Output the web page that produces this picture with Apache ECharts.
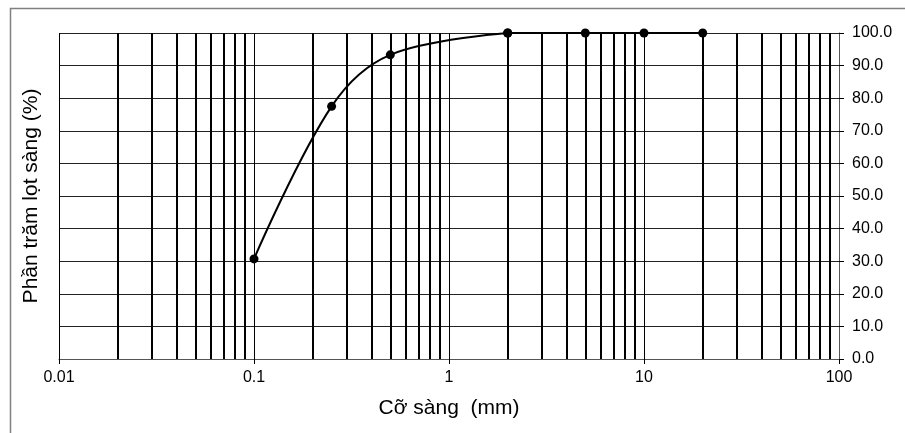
<!DOCTYPE html>
<html>
<head>
<meta charset="utf-8">
<script src="https://cdn.jsdelivr.net/npm/echarts@6/dist/echarts.min.js"></script>
<style>html,body{margin:0;padding:0;background:#fff;}#c{width:905px;height:433px;}</style>
</head>
<body>
<div id="c"></div>
<script>
// Data
var sieveSizes = [0.1, 0.25, 0.5, 2, 5, 10, 20];
var percentPassing = [30.7, 77.5, 93.3, 100, 100, 100, 100];
var minorGridValues = [0.02,0.03,0.04,0.05,0.06,0.07,0.08,0.09,
                       0.2,0.3,0.4,0.5,0.6,0.7,0.8,0.9,
                       2,3,4,5,6,7,8,9,
                       20,30,40,50,60,70,80,90];
var xTickLabels = ['0.01','0.1','1','10','100'];
var xTickValues = [0.01,0.1,1,10,100];
var xTitle = 'Cỡ sàng  (mm)';
var yTitle = 'Phần trăm lọt sàng (%)';

var font = 'Liberation Sans, Arial, sans-serif';
var pts = sieveSizes.map(function (s, i) { return [s, percentPassing[i]]; });
// first point reaching 100 splits curved part from flat part
var splitIdx = percentPassing.indexOf(100);

var chart = echarts.init(document.getElementById('c'), null, {renderer:'canvas'});
chart.setOption({
  animation: false,
  backgroundColor: '#fff',
  graphic: [{
    type: 'rect', z: 100, silent: true,
    shape: {x: 10.5, y: 8.5, width: 1000, height: 1000},
    style: {fill: 'none', stroke: '#808080', lineWidth: 1.5}
  }],
  grid: {left: 59, right: 66, top: 33, bottom: 74, containLabel: false},
  xAxis: {
    type: 'log', logBase: 10, min: 0.01, max: 100,
    name: xTitle, nameLocation: 'middle', nameGap: 39,
    nameTextStyle: {fontFamily: font, fontSize: 21, color: '#000'},
    axisLine: {show: true, onZero: false, lineStyle: {color: '#555', width: 1}},
    axisTick: {show: true, length: 5, lineStyle: {color: '#000', width: 1}},
    axisLabel: {
      margin: 11, fontFamily: font, fontSize: 16, color: '#000',
      formatter: function (v) {
        for (var i = 0; i < xTickValues.length; i++) {
          if (Math.abs(Math.log10(v) - Math.log10(xTickValues[i])) < 1e-6) return xTickLabels[i];
        }
        return '';
      }
    },
    splitLine: {show: true, lineStyle: {color: '#000', width: 1}}
  },
  yAxis: [{
    type: 'value', position: 'right', min: 0, max: 100, interval: 10,
    axisLine: {show: true, lineStyle: {color: '#555', width: 1}},
    axisTick: {show: true, length: 5, lineStyle: {color: '#000', width: 1}},
    axisLabel: {margin: 13, fontFamily: font, fontSize: 16, color: '#000',
      formatter: function (v) { return v.toFixed(1); }},
    splitLine: {show: true, lineStyle: {color: '#222', width: 1}}
  }, {
    type: 'value', position: 'left', min: 0, max: 100,
    name: yTitle, nameLocation: 'middle', nameGap: 17, nameRotate: 90,
    nameTextStyle: {fontFamily: font, fontSize: 21, color: '#000'},
    axisLine: {show: false}, axisTick: {show: false}, axisLabel: {show: false},
    splitLine: {show: false}
  }],
  series: [{
    type: 'line',
    data: pts.slice(0, splitIdx + 1),
    smooth: 0.35,
    symbol: 'circle', symbolSize: 9,
    itemStyle: {color: '#000'},
    lineStyle: {color: '#000', width: 2},
    z: 5,
    markLine: {
      silent: true, symbol: ['none','none'], label: {show: false},
      lineStyle: {color: '#000', width: 2, type: 'solid'},
      z: 2,
      data: minorGridValues.map(function (v) { return {xAxis: v}; })
    }
  }, {
    type: 'line',
    data: pts.slice(splitIdx),
    symbol: 'circle', symbolSize: 9,
    itemStyle: {color: '#000'},
    lineStyle: {color: '#000', width: 2},
    z: 5
  }]
});
</script>
</body>
</html>
